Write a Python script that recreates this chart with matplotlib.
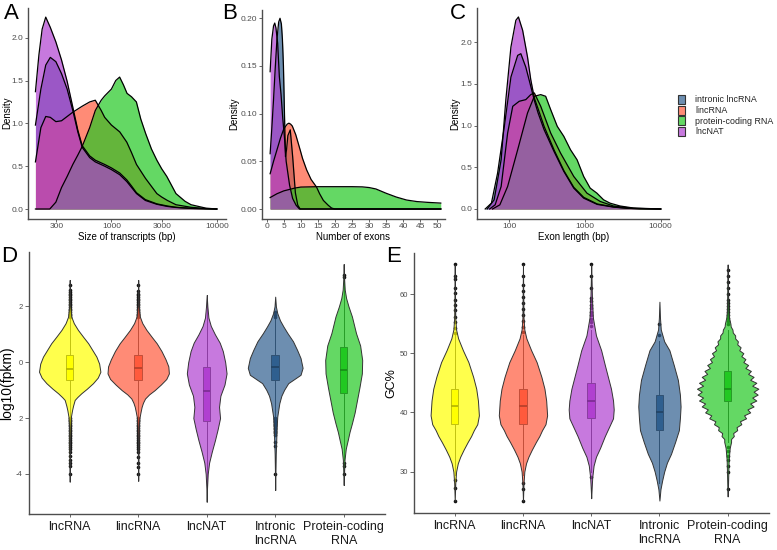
import numpy as np
import matplotlib.pyplot as plt
from matplotlib.colors import to_rgba
from matplotlib.patches import Rectangle

plt.rcParams['font.family'] = ['Liberation Sans', 'DejaVu Sans']

W, H = 777, 550
fig = plt.figure(figsize=(W / 100, H / 100), dpi=100)

# ---------------- density panels (A-C) ----------------
dens_groups = ['intronic lncRNA', 'lincRNA', 'protein-coding RNA', 'lncNAT']
dens_cols = ['#2F5F8F', '#FF5A3C', '#22C822', '#B040D0']

# A: size of transcripts (bp)
a_intr_x = [190, 214, 238, 263, 297, 336, 380, 430, 480, 528, 622, 703, 863, 1000, 1200, 1400, 1730, 2100, 2700, 3400, 4100, 5700, 7900, 10000]
a_intr_y = [0.98, 1.40, 1.68, 1.77, 1.72, 1.58, 1.40, 1.15, 0.90, 0.72, 0.60, 0.55, 0.50, 0.46, 0.40, 0.32, 0.18, 0.10, 0.055, 0.03, 0.018, 0.007, 0.002, 0.0]
a_linc_x = [190, 214, 238, 263, 297, 336, 380, 430, 528, 622, 703, 800, 863, 1000, 1200, 1400, 1550, 1730, 2100, 2700, 3000, 3400, 4100, 5700, 7900, 10000]
a_linc_y = [0.55, 0.95, 1.08, 1.07, 1.02, 1.03, 1.08, 1.13, 1.20, 1.25, 1.27, 1.15, 1.07, 0.98, 0.90, 0.78, 0.66, 0.52, 0.36, 0.18, 0.14, 0.10, 0.05, 0.02, 0.005, 0.0]
a_pc_x = [190, 260, 297, 336, 380, 430, 480, 528, 622, 703, 800, 863, 1000, 1100, 1197, 1300, 1407, 1552, 1726, 1900, 2115, 2400, 2700, 3000, 3357, 4100, 5000, 5700, 7900, 10000]
a_pc_y = [0.0, 0.0, 0.08, 0.25, 0.38, 0.52, 0.63, 0.73, 0.95, 1.15, 1.27, 1.32, 1.40, 1.50, 1.54, 1.45, 1.35, 1.31, 1.25, 1.05, 0.88, 0.70, 0.57, 0.47, 0.38, 0.18, 0.09, 0.05, 0.01, 0.0]
a_nat_x = [190, 205, 220, 238, 263, 297, 336, 380, 430, 480, 528, 622, 703, 863, 1000, 1200, 1400, 1550, 1730, 2100, 2700, 3400, 4100, 5700, 7900, 10000]
a_nat_y = [1.37, 1.80, 2.10, 2.24, 2.12, 1.95, 1.74, 1.49, 1.19, 0.92, 0.74, 0.62, 0.57, 0.52, 0.48, 0.42, 0.34, 0.27, 0.19, 0.11, 0.06, 0.035, 0.02, 0.008, 0.003, 0.0]

# B: number of exons
b_intr_x = [1, 1.5, 2, 2.5, 3, 3.5, 3.9, 4.3, 4.6, 4.9, 5.2, 5.5, 5.8, 6.2, 6.9, 7.6, 8.4, 9.1, 9.8, 51]
b_intr_y = [0.058, 0.085, 0.115, 0.148, 0.178, 0.196, 0.200, 0.194, 0.178, 0.150, 0.100, 0.055, 0.062, 0.077, 0.083, 0.055, 0.017, 0.004, 0.0, 0.0]
b_linc_x = [1, 2, 3, 4, 5, 6, 6.5, 7, 7.5, 8.5, 9.8, 10.5, 11.7, 13, 14.6, 15.5, 16.6, 18, 19, 20, 51]
b_linc_y = [0.037, 0.05, 0.062, 0.074, 0.084, 0.089, 0.090, 0.089, 0.087, 0.078, 0.062, 0.053, 0.041, 0.031, 0.023, 0.016, 0.009, 0.004, 0.001, 0.0, 0.0]
b_pc_x = [1, 3, 5, 8.3, 10, 15, 20, 25, 28, 30, 32, 35, 38, 41, 44, 47, 51]
b_pc_y = [0.012, 0.016, 0.019, 0.022, 0.023, 0.0234, 0.0234, 0.0234, 0.0232, 0.0225, 0.021, 0.0165, 0.0125, 0.0094, 0.0078, 0.007, 0.0062]
b_nat_x = [1, 1.5, 2, 2.35, 2.7, 3.2, 3.7, 4.2, 4.7, 5.2, 5.7, 6.7, 7.6, 8.6, 9.6, 51]
b_nat_y = [0.144, 0.178, 0.192, 0.195, 0.19, 0.174, 0.139, 0.12, 0.095, 0.075, 0.05, 0.025, 0.011, 0.004, 0.0, 0.0]

# C: exon length (bp)
c_intr_x = [48, 58, 70, 86, 105, 129, 142, 165, 192, 214, 240, 288, 389, 525, 710, 960, 1450, 2400, 3570, 5300, 10000]
c_intr_y = [0.0, 0.07, 0.43, 0.99, 1.58, 1.84, 1.86, 1.70, 1.47, 1.30, 1.15, 0.95, 0.69, 0.45, 0.25, 0.13, 0.055, 0.022, 0.009, 0.003, 0.0]
c_linc_x = [55, 65, 78, 95, 111, 135, 165, 192, 214, 260, 352, 475, 710, 1060, 1590, 2370, 4340, 10000]
c_linc_y = [0.0, 0.05, 0.27, 0.91, 1.23, 1.29, 1.31, 1.37, 1.39, 1.23, 0.91, 0.67, 0.39, 0.19, 0.09, 0.036, 0.008, 0.0]
c_pc_x = [60, 75, 95, 129, 174, 214, 260, 302, 352, 430, 525, 643, 785, 960, 1170, 1435, 1760, 2140, 2900, 4340, 10000]
c_pc_y = [0.0, 0.05, 0.27, 0.71, 1.15, 1.35, 1.37, 1.35, 1.19, 0.99, 0.87, 0.71, 0.59, 0.39, 0.25, 0.19, 0.11, 0.07, 0.036, 0.012, 0.0]
c_nat_x = [51, 63, 78, 90, 105, 122, 132, 150, 174, 192, 214, 240, 288, 389, 525, 710, 960, 1450, 2400, 3570, 5300, 10000]
c_nat_y = [0.0, 0.11, 0.59, 1.31, 1.94, 2.26, 2.30, 2.14, 1.82, 1.55, 1.33, 1.2, 0.99, 0.71, 0.46, 0.26, 0.14, 0.06, 0.025, 0.01, 0.003, 0.0]

# ---------------- violin panels (D, E) ----------------
vio_cats = ['lncRNA', 'lincRNA', 'lncNAT', 'Intronic\nlncRNA', 'Protein-coding\nRNA']
vio_cols = ['#FFFF00', '#FF5A3C', '#B040D0', '#2F5F8F', '#22C822']

# D: log10(fpkm) violin outlines (value, half width in category units)
d_vals = [
    [2.95, 2.5, 2.0, 1.63, 1.4, 1.16, 0.9, 0.68, 0.4, 0.2, -0.05, -0.34, -0.55, -0.75, -0.95, -1.11, -1.25, -1.35, -1.55, -1.71, -1.95, -2.3, -2.8, -3.3, -3.8, -4.28],
    [2.95, 2.5, 2.0, 1.63, 1.4, 1.16, 0.9, 0.68, 0.4, 0.1, -0.15, -0.4, -0.6, -0.8, -1.0, -1.15, -1.3, -1.45, -1.6, -1.8, -2.0, -2.3, -2.8, -3.3, -3.8, -4.25],
    [2.41, 2.0, 1.6, 1.3, 1.0, 0.7, 0.4, 0.0, -0.4, -0.8, -1.2, -1.6, -2.0, -2.4, -2.8, -3.2, -3.6, -4.0, -4.5, -5.0],
    [2.35, 2.0, 1.76, 1.5, 1.28, 1.04, 0.75, 0.44, 0.15, -0.2, -0.45, -0.6, -0.75, -0.99, -1.2, -1.47, -1.95, -2.4, -2.8, -3.3, -3.9, -4.58],
    [3.52, 3.0, 2.6, 2.3, 2.0, 1.64, 1.04, 0.6, 0.08, -0.4, -0.9, -1.35, -1.8, -2.19, -2.5, -2.78, -3.1, -3.5, -4.0, -4.4],
]
d_half = [
    [0, 0.004, 0.008, 0.024, 0.06, 0.12, 0.2, 0.27, 0.34, 0.39, 0.43, 0.448, 0.41, 0.34, 0.25, 0.17, 0.11, 0.073, 0.05, 0.035, 0.018, 0.01, 0.007, 0.005, 0.003, 0],
    [0, 0.004, 0.008, 0.025, 0.06, 0.12, 0.2, 0.27, 0.34, 0.4, 0.44, 0.448, 0.41, 0.33, 0.24, 0.16, 0.1, 0.07, 0.05, 0.033, 0.018, 0.01, 0.007, 0.005, 0.003, 0],
    [0, 0.01, 0.025, 0.06, 0.12, 0.19, 0.235, 0.27, 0.29, 0.26, 0.2, 0.18, 0.195, 0.16, 0.12, 0.075, 0.035, 0.015, 0.005, 0],
    [0, 0.01, 0.03, 0.07, 0.12, 0.18, 0.26, 0.32, 0.37, 0.4, 0.37, 0.28, 0.19, 0.13, 0.09, 0.06, 0.03, 0.02, 0.015, 0.008, 0.004, 0],
    [0, 0.006, 0.015, 0.035, 0.07, 0.12, 0.18, 0.24, 0.27, 0.265, 0.23, 0.195, 0.16, 0.12, 0.085, 0.06, 0.03, 0.012, 0.005, 0],
]
d_q1 = [-0.63, -0.63, -2.09, -0.63, -1.09]
d_med = [-0.24, -0.22, -1.03, -0.18, -0.27]
d_q3 = [0.25, 0.25, -0.18, 0.25, 0.53]
d_wlo = [-1.95, -1.95, -4.95, -1.95, -3.5]
d_whi = [1.57, 1.57, 2.4, 1.55, 2.95]
d_out = [
    [1.62, 1.68, 1.74, 1.8, 1.86, 1.92, 1.98, 2.04, 2.1, 2.16, 2.22, 2.28, 2.34, 2.4, 2.46, 2.52, 2.6, 2.75,
     -2.0, -2.06, -2.12, -2.18, -2.24, -2.3, -2.36, -2.42, -2.48, -2.54, -2.6, -2.66, -2.72, -2.78, -2.84,
     -2.9, -2.96, -3.02, -3.1, -3.2, -3.35, -3.5, -3.62, -3.72, -4.0],
    [1.62, 1.68, 1.74, 1.8, 1.86, 1.92, 1.98, 2.04, 2.1, 2.16, 2.22, 2.28, 2.34, 2.4, 2.46, 2.55, 2.75,
     -2.0, -2.06, -2.12, -2.18, -2.24, -2.3, -2.36, -2.42, -2.48, -2.54, -2.6, -2.66, -2.72, -2.78, -2.84,
     -2.9, -2.96, -3.02, -3.1, -3.2, -3.4, -3.6, -3.75, -4.0],
    [],
    [1.62, 1.7, 1.8, -2.0, -2.05, -2.1, -2.15, -2.2, -2.25, -2.3, -2.35, -2.4, -2.45, -2.5, -2.55, -2.62,
     -2.85, -3.0, -4.0],
    [3.07, 3.13, -3.6, -3.7, -4.0],
]
d_ticks = [-4, -2, 0, 2]
d_ticklabels = ['-4', '2', '0', '2']

# E: GC% violin outlines
e_vals = [
    [65, 60, 56, 54, 52.5, 50.5, 48.5, 46, 44, 42, 39.5, 38, 37, 36, 35, 33.7, 32.5, 31.4, 30, 28, 25],
    [65, 60, 56, 54, 52.5, 50.5, 48.5, 46, 44, 42, 39.5, 38, 37, 36, 35, 33.7, 32.5, 31.4, 30, 28, 25],
    [65, 62, 59, 56, 53, 50.5, 48, 46, 44, 42, 40.5, 39, 37.5, 36, 34, 32.5, 31, 29, 27, 25.5],
    [58.7, 56, 54, 52, 50.5, 48, 45.5, 43, 41, 39, 37, 35, 33, 31.5, 30, 28.5, 27, 25.1],
    [65, 62, 59, 57, 56, 55.5, 55, 54.5, 54, 53.5, 53, 52.5, 52, 51.5, 51, 50.5, 50, 49.5, 49, 48.5, 48,
     47.5, 47, 46.5, 46, 45.5, 45, 44.5, 44, 43.5, 43, 42.5, 42, 41.5, 41, 40.5, 40, 39.5, 39, 38.5, 38,
     37.5, 37, 36.5, 36, 35.5, 35, 34, 32, 30, 28, 26, 25.8],
]
e_half = [
    [0, 0.004, 0.008, 0.02, 0.05, 0.12, 0.2, 0.27, 0.315, 0.34, 0.354, 0.33, 0.28, 0.24, 0.19, 0.13, 0.08, 0.045, 0.02, 0.008, 0],
    [0, 0.004, 0.008, 0.02, 0.05, 0.12, 0.2, 0.27, 0.315, 0.34, 0.354, 0.33, 0.28, 0.24, 0.19, 0.13, 0.08, 0.045, 0.02, 0.008, 0],
    [0, 0.006, 0.012, 0.025, 0.07, 0.146, 0.2, 0.245, 0.29, 0.32, 0.33, 0.32, 0.26, 0.2, 0.13, 0.07, 0.035, 0.015, 0.006, 0],
    [0, 0.008, 0.02, 0.07, 0.146, 0.21, 0.27, 0.3, 0.31, 0.3, 0.285, 0.23, 0.17, 0.11, 0.07, 0.04, 0.015, 0],
    [0, 0.004, 0.008, 0.012, 0.02, 0.03, 0.04, 0.045, 0.07, 0.075, 0.11, 0.11, 0.15, 0.14, 0.19, 0.17, 0.23,
     0.2, 0.26, 0.23, 0.3, 0.26, 0.34, 0.3, 0.38, 0.33, 0.42, 0.36, 0.45, 0.38, 0.44, 0.36, 0.42, 0.33,
     0.38, 0.29, 0.33, 0.24, 0.27, 0.18, 0.2, 0.13, 0.14, 0.08, 0.09, 0.05, 0.05, 0.03, 0.015, 0.01,
     0.006, 0.002, 0],
]
e_q1 = [38, 38, 39, 37, 42]
e_med = [41, 41, 42, 40, 44]
e_q3 = [44, 44, 45, 43, 47]
e_wlo = [29.5, 29.5, 30, 28, 35]
e_whi = [53, 53, 54, 52, 54]
e_out = [
    [53.4, 54.2, 55.3, 56.2, 57.3, 58.1, 59, 60.1, 61, 62.5, 63, 65, 28.6, 27.2, 25],
    [53.5, 54.5, 55.5, 56.5, 57.5, 58.5, 59.5, 60.5, 61.5, 63, 65, 28, 27, 25],
    [54.6, 55.2, 55.8, 56.4, 57, 57.6, 58.2, 58.8, 59.4, 61, 63, 65, 29],
    [53, 55],
    [55, 55.5, 56, 56.5, 57, 57.5, 58, 58.5, 59, 60, 61, 62, 63, 64, 34.2, 33.4, 32.6, 32, 31, 30, 27],
]
e_ticks = [30, 40, 50, 60]


def px_axes(left, top, right, bottom):
    return fig.add_axes([left / W, 1 - bottom / H, (right - left) / W, (bottom - top) / H])


def style(ax, size=6):
    for s in ['top', 'right']:
        ax.spines[s].set_visible(False)
    for s in ['left', 'bottom']:
        ax.spines[s].set_color('#4d4d4d')
        ax.spines[s].set_linewidth(1.0)
    ax.tick_params(length=2, width=0.6, color='#4d4d4d', labelcolor='#4d4d4d', labelsize=size, pad=1.5)
    ax.minorticks_off()


def density(ax, xs, ys):
    for x, y, c in zip(xs, ys, dens_cols):
        ax.fill_between(x, y, color=c, alpha=0.7, lw=0)
        ax.plot(x, y, color='black', lw=0.9)


# panel A
axA = px_axes(28.3, 7.7, 225.7, 218.6)
density(axA, [a_intr_x, a_linc_x, a_pc_x, a_nat_x], [a_intr_y, a_linc_y, a_pc_y, a_nat_y])
axA.set_xscale('log')
axA.set_xlim(10 ** 2.211, 10 ** 4.085)
axA.set_ylim(-0.112, 2.35)
axA.set_xticks([300, 1000, 3000, 10000], ['300', '1000', '3000', '10000'])
axA.set_yticks([0, 0.5, 1.0, 1.5, 2.0], ['0.0', '0.5', '1.0', '1.5', '2.0'])
style(axA)
axA.set_xlabel('Size of transcripts (bp)', fontsize=7, labelpad=1)
axA.set_ylabel('Density', fontsize=7)
axA.yaxis.set_label_coords(-0.083, 0.5)

# panel B
axB = px_axes(261.7, 9.7, 444.5, 218.5)
density(axB, [b_intr_x, b_linc_x, b_pc_x, b_nat_x], [b_intr_y, b_linc_y, b_pc_y, b_nat_y])
axB.set_xlim(-1.47, 52.1)
axB.set_ylim(-0.00996, 0.209)
axB.set_xticks(range(0, 51, 5))
axB.set_yticks([0, 0.05, 0.10, 0.15, 0.20], ['0.00', '0.05', '0.10', '0.15', '0.20'])
style(axB)
axB.set_xlabel('Number of exons', fontsize=7, labelpad=1)
axB.set_ylabel('Density', fontsize=7)
axB.yaxis.set_label_coords(-0.122, 0.5)

# panel C
axC = px_axes(477.3, 8.2, 669.4, 218.6)
density(axC, [c_intr_x, c_linc_x, c_pc_x, c_nat_x], [c_intr_y, c_linc_y, c_pc_y, c_nat_y])
axC.set_xscale('log')
axC.set_xlim(10 ** 1.577, 10 ** 4.115)
axC.set_ylim(-0.115, 2.405)
axC.set_xticks([100, 1000, 10000], ['100', '1000', '10000'])
axC.set_yticks([0, 0.5, 1.0, 1.5, 2.0], ['0.0', '0.5', '1.0', '1.5', '2.0'])
style(axC)
axC.set_xlabel('Exon length (bp)', fontsize=7, labelpad=1)
axC.set_ylabel('Density', fontsize=7)
axC.yaxis.set_label_coords(-0.09, 0.5)

# legend for the density panels
for i, (lab, col) in enumerate(zip(dens_groups, dens_cols)):
    y = 94.7 + i * 10.8
    fig.add_artist(Rectangle((678.3 / W, 1 - (y + 9) / H), 6.5 / W, 9 / H, transform=fig.transFigure,
                             facecolor=to_rgba(col, 0.7), edgecolor='#333333', lw=0.8))
    fig.text(695.0 / W, 1 - (y + 4.7) / H, lab, fontsize=6.4, va='center', ha='left', color='#222222')


def violins(ax, vals, halves, q1, med, q3, wlo, whi, outs):
    for i in range(len(vals)):
        pos = i + 1
        st = dict(med=med[i], q1=q1[i], q3=q3[i], whislo=wlo[i], whishi=whi[i], fliers=outs[i])
        ax.bxp([st], positions=[pos], widths=0.11, patch_artist=True, showcaps=False,
               boxprops=dict(facecolor=vio_cols[i], edgecolor='#333333', lw=0.7),
               medianprops=dict(color='black', lw=1.2),
               whiskerprops=dict(color='#333333', lw=0.7),
               flierprops=dict(marker='o', ms=2.6, mfc='#111111', mec='none'),
               manage_ticks=False, zorder=1)
        v = np.array(vals[i])
        w = np.array(halves[i])
        ax.fill_betweenx(v, pos - w, pos + w, facecolor=to_rgba(vio_cols[i], 0.7),
                         edgecolor='#333333', lw=0.7, zorder=2)
    ax.set_xlim(0.4, 5.6)
    ax.set_xticks(range(1, 6), vio_cats)
    style(ax, size=5.5)
    ax.tick_params(axis='y', length=2.7)
    ax.tick_params(axis='x', labelsize=9, labelcolor='#1a1a1a', pad=3)


# panel D
axD = px_axes(28.6, 252, 384.8, 513.8)
violins(axD, d_vals, d_half, d_q1, d_med, d_q3, d_wlo, d_whi, d_out)
axD.set_ylim(-5.43, 3.95)
axD.set_yticks(d_ticks, d_ticklabels)
axD.set_ylabel('log10(fpkm)', fontsize=10)
axD.yaxis.set_label_coords(-0.041, 0.5)

# panel E
axE = px_axes(413.8, 252.6, 768.6, 513)
violins(axE, e_vals, e_half, e_q1, e_med, e_q3, e_wlo, e_whi, e_out)
axE.set_ylim(23, 67)
axE.set_yticks(e_ticks)
axE.set_ylabel('GC%', fontsize=9)
axE.yaxis.set_label_coords(-0.047, 0.5)

# panel letters
for letter, x, y in [('A', 4, 19), ('B', 222, 19), ('C', 450, 19), ('D', 1, 262), ('E', 386, 262)]:
    fig.text(x / W, 1 - y / H, letter, fontsize=16, va='baseline', ha='left')

fig.savefig('out.png', dpi=100)
